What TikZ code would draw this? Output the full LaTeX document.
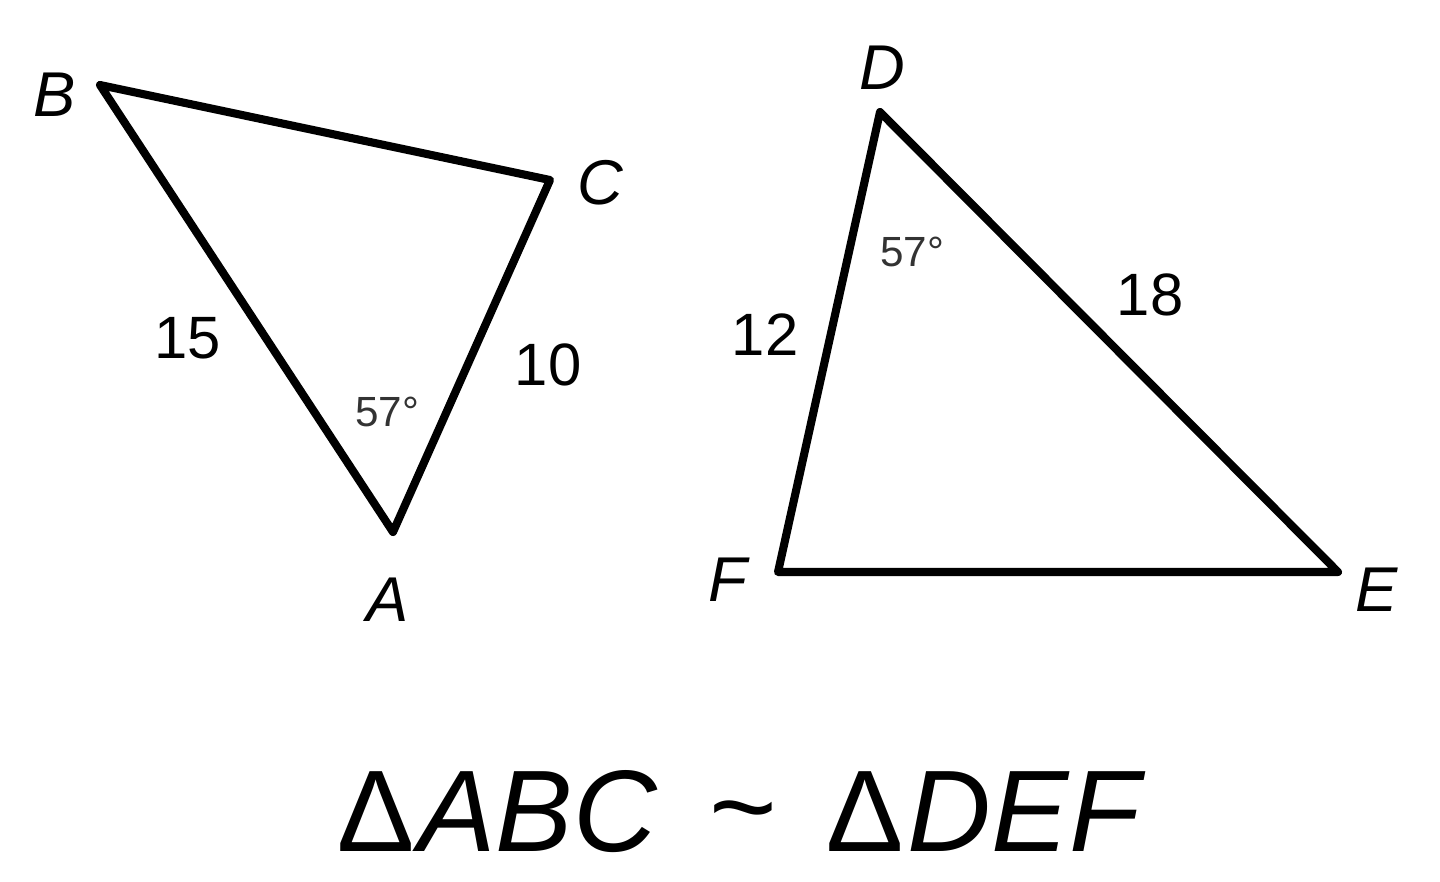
\documentclass[tikz,border=0pt]{standalone}
\usepackage{fontspec}
\setmainfont{Liberation Sans}
\begin{document}
\begin{tikzpicture}[x=0.01cm,y=-0.01cm,
  edge/.style={line width=2.3pt,line join=round,line cap=round},
  vlabel/.style={font=\fontsize{18}{20}\selectfont\itshape,inner sep=0pt},
  slabel/.style={font=\fontsize{17}{20}\selectfont,inner sep=0pt},
  alabel/.style={font=\fontsize{12}{14}\selectfont,inner sep=0pt,text=black!80}]
\useasboundingbox (0,0) rectangle (1440,881);
% triangle ABC
\coordinate (B) at (100,85);
\coordinate (C) at (550,180);
\coordinate (A) at (393,532);
\draw[edge] (B) -- (C) -- (A) -- cycle;
\node[vlabel] (lB) at (55,95) {B};
\node[vlabel] (lC) at (600,183) {C};
\node[vlabel] (lA) at (388,600) {A};
\node[slabel] (s15) at (188,338) {15};
\node[slabel] (s10) at (548,365) {10};
\node[alabel] (a1) at (387,412) {57°};
% triangle DEF
\coordinate (D) at (880,112);
\coordinate (F) at (778,572);
\coordinate (E) at (1338,572);
\draw[edge] (D) -- (E) -- (F) -- cycle;
\node[vlabel] (lD) at (882,68) {D};
\node[vlabel] (lF) at (728,580) {F};
\node[vlabel] (lE) at (1377,590) {E};
\node[slabel] (s12) at (765,335) {12};
\node[slabel] (s18) at (1150,295) {18};
\node[alabel] (a2) at (912,252) {57°};
% caption
\node[font=\fontsize{33}{40}\selectfont,inner sep=0pt] (cap) at (743,812) {∆\kern0.06em\textit{ABC}\hspace{0.45em}\raisebox{0.05em}{\char"007E}\hspace{0.45em}∆\kern0.06em\textit{DEF}};
\end{tikzpicture}
\end{document}
